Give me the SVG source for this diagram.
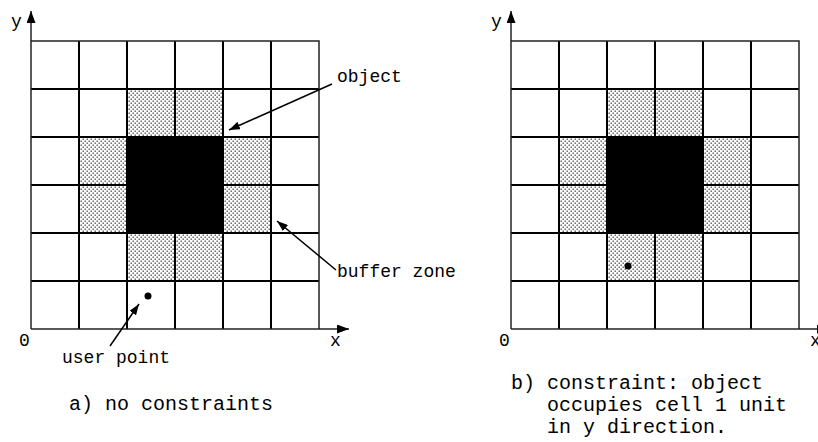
<svg xmlns="http://www.w3.org/2000/svg" width="818" height="442" viewBox="0 0 818 442">
<defs>
<pattern id="stip" width="4" height="4" patternUnits="userSpaceOnUse">
<rect width="4" height="4" fill="#fff"/>
<rect x="0.5" y="0.5" width="1.4" height="1.4" fill="#555"/>
<rect x="2.5" y="2.5" width="1.4" height="1.4" fill="#555"/>
</pattern>
<marker id="ah" markerWidth="11" markerHeight="8" refX="11" refY="4" orient="auto" markerUnits="userSpaceOnUse">
<path d="M0,0 L11,4 L0,8 z" fill="#000"/>
</marker>
<marker id="axh" markerWidth="12" markerHeight="9" refX="12" refY="4.5" orient="auto" markerUnits="userSpaceOnUse">
<path d="M0,0 L12,4.5 L0,9 z" fill="#000"/>
</marker>
</defs>
<style>
.t{font-family:"Liberation Mono","Courier New",monospace;font-size:18px;fill:#000}
.cap{font-size:20px}
.st{fill:url(#stip)}
.bk{fill:#000}
.gl{stroke:#000;stroke-width:2;fill:none}
.fr{stroke:#222;stroke-width:1.5;fill:none}
.ax{stroke:#222;stroke-width:1.5;fill:none}
.ar{stroke:#000;stroke-width:1.5;fill:none}
</style>

<g id="panel-a">
<g id="cells-a">
<rect class="st" x="127" y="89" width="96" height="48"/>
<rect class="st" x="79" y="137" width="48" height="96"/>
<rect class="st" x="223" y="137" width="48" height="96"/>
<rect class="st" x="127" y="233" width="96" height="48"/>
<rect class="bk" x="127" y="137" width="96" height="96"/>
</g>
<path class="gl" d="M79,41V329M127,41V329M175,41V329M223,41V329M271,41V329M31,89H319M31,137H319M31,185H319M31,233H319M31,281H319"/>
<path class="fr" d="M31,41H319V329"/>
<path class="ax" d="M31,329V11" marker-end="url(#axh)"/>
<path class="ax" d="M31,329H349" marker-end="url(#axh)"/>
<circle cx="148" cy="296" r="3.5" fill="#000"/>
<text class="t" x="11" y="27">y</text>
<text class="t" x="19" y="346">0</text>
<text class="t" x="330" y="346">x</text>
</g>

<g id="panel-b">
<g id="cells-b">
<rect class="st" x="607" y="89" width="96" height="48"/>
<rect class="st" x="559" y="137" width="48" height="96"/>
<rect class="st" x="703" y="137" width="48" height="96"/>
<rect class="st" x="607" y="233" width="96" height="48"/>
<rect class="bk" x="607" y="137" width="96" height="96"/>
</g>
<path class="gl" d="M559,41V329M607,41V329M655,41V329M703,41V329M751,41V329M511,89H799M511,137H799M511,185H799M511,233H799M511,281H799"/>
<path class="fr" d="M511,41H799V329"/>
<path class="ax" d="M511,329V11" marker-end="url(#axh)"/>
<path class="ax" d="M511,329H829" marker-end="url(#axh)"/>
<circle cx="628" cy="266" r="3.5" fill="#000"/>
<text class="t" x="491" y="27">y</text>
<text class="t" x="499" y="346">0</text>
<text class="t" x="810" y="346">x</text>
</g>

<g id="connectors">
<path class="ar" d="M332,84L229,130" marker-end="url(#ah)"/>
<path class="ar" d="M336,270L277,221" marker-end="url(#ah)"/>
<path class="ar" d="M110,346L139,304" marker-end="url(#ah)"/>
</g>

<g id="labels">
<text class="t" x="337" y="82">object</text>
<text class="t" x="337" y="277">buffer zone</text>
<text class="t" x="62" y="363">user point</text>
<text class="t cap" x="69" y="410">a) no constraints</text>
<text class="t cap" x="511" y="389">b) constraint: object</text>
<text class="t cap" x="547" y="411">occupies cell 1 unit</text>
<text class="t cap" x="547" y="433">in y direction.</text>
</g>
</svg>
